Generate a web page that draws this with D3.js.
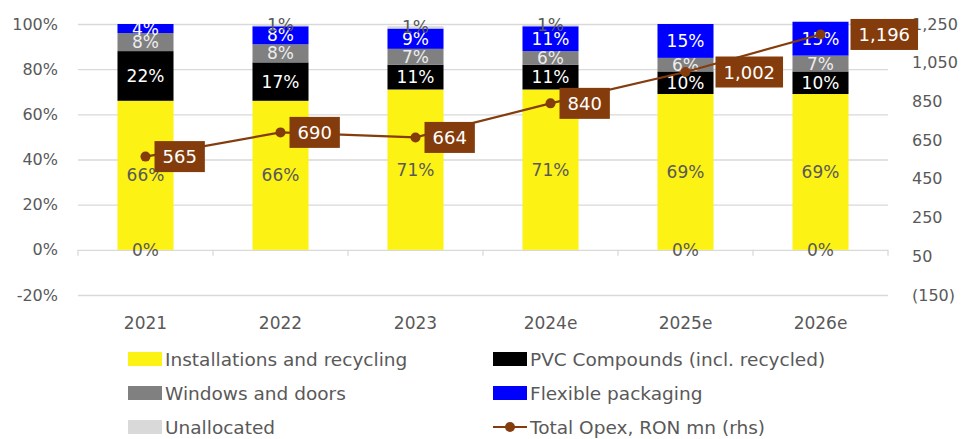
<!DOCTYPE html>
<html>
<head>
<meta charset="utf-8">
<script src="https://cdn.jsdelivr.net/npm/d3@7"></script>
<style>
  html, body { margin: 0; padding: 0; background: #fff; }
  svg { display: block; font-family: "DejaVu Sans", sans-serif; }
</style>
</head>
<body>
<svg id="chart" width="965" height="439"></svg>
<script>
// Opex split by business line (share of total, %) and total opex (RON mn)
const years         = ["2021", "2022", "2023", "2024e", "2025e", "2026e"];
const installations = [66, 66, 71, 71, 69, 69];
const pvcCompounds  = [22, 17, 11, 11, 10, 10];
const windowsDoors  = [8, 8, 7, 6, 6, 7];
const flexiblePack  = [4, 8, 9, 11, 15, 15];
const unallocated   = [0, 1, 1, 1, 0, 0];
const totalOpex     = [565, 690, 664, 840, 1002, 1196];

const leftTicks  = [-20, 0, 20, 40, 60, 80, 100];
const rightTicks = [-150, 50, 250, 450, 650, 850, 1050, 1250];

const seriesNames = [
  "Installations and recycling",
  "PVC Compounds (incl. recycled)",
  "Windows and doors",
  "Flexible packaging",
  "Unallocated"
];
const seriesValues = [installations, pvcCompounds, windowsDoors, flexiblePack, unallocated];
const lineName = "Total Opex, RON mn (rhs)";

const colors = {
  "Installations and recycling": "#FCF213",
  "PVC Compounds (incl. recycled)": "#000000",
  "Windows and doors": "#808080",
  "Flexible packaging": "#0000FF",
  "Unallocated": "#D9D9D9"
};
const labelColors = {
  "Installations and recycling": "#595959",
  "PVC Compounds (incl. recycled)": "#FFFFFF",
  "Windows and doors": "#EDEDED",
  "Flexible packaging": "#FFFFFF",
  "Unallocated": "#595959"
};
const lineColor = "#843C0C";
const textColor = "#595959";
const gridColor = "#D9D9D9";

// table for stacking
const rows = years.map((y, i) => {
  const r = { year: y };
  seriesNames.forEach((n, k) => { r[n] = seriesValues[k][i]; });
  return r;
});

const svg = d3.select("#chart");
const plot = { left: 78, right: 888, top: 24, bottom: 295 };

const x = d3.scaleBand()
  .domain(years)
  .range([plot.left, plot.right])
  .paddingInner(0.585)
  .paddingOuter(0.2925);

const yL = d3.scaleLinear().domain([-20, 100]).range([plot.bottom, plot.top]);
const yR = d3.scaleLinear().domain([-150, 1250]).range([plot.bottom, plot.top]);

// horizontal gridlines + left axis labels
const gAxisL = svg.append("g")
  .attr("transform", `translate(${plot.left},0)`)
  .call(d3.axisLeft(yL)
    .tickValues(leftTicks)
    .tickSize(-(plot.right - plot.left))
    .tickPadding(20)
    .tickFormat(d => d + "%"));
gAxisL.select(".domain").remove();
gAxisL.selectAll(".tick line").attr("stroke", gridColor).attr("stroke-width", 1.3);
gAxisL.selectAll(".tick text")
  .attr("fill", textColor).style("font-size", "16px").attr("font-family", "DejaVu Sans");

// category axis on the zero line with boundary ticks
const gAxisX = svg.append("g").attr("transform", `translate(0,${yL(0)})`);
const boundaries = d3.range(years.length + 1).map(i => plot.left + i * x.step());
gAxisX.selectAll("line.bound")
  .data(boundaries)
  .join("line")
  .attr("class", "bound")
  .attr("x1", d => d).attr("x2", d => d)
  .attr("y1", 0).attr("y2", 6)
  .attr("stroke", gridColor).attr("stroke-width", 1.3);

// year labels below the plot
svg.append("g").selectAll("text")
  .data(years)
  .join("text")
  .attr("x", d => x(d) + x.bandwidth() / 2)
  .attr("y", 323)
  .attr("text-anchor", "middle")
  .attr("dominant-baseline", "central")
  .attr("fill", textColor)
  .style("font-size", "17px")
  .text(d => d);

// right axis (rhs, RON mn)
const gAxisR = svg.append("g")
  .attr("transform", `translate(${plot.right},0)`)
  .call(d3.axisRight(yR)
    .tickValues(rightTicks)
    .tickSize(0)
    .tickPadding(24)
    .tickFormat(d => d < 0 ? `(${d3.format(",")(-d)})` : d3.format(",")(d)));
gAxisR.select(".domain").remove();
gAxisR.selectAll(".tick text")
  .attr("fill", textColor).style("font-size", "16px").attr("font-family", "DejaVu Sans");

// stacked bars
const stacked = d3.stack().keys(seriesNames)(rows);

const layers = svg.append("g").selectAll("g.layer")
  .data(stacked)
  .join("g")
  .attr("class", "layer")
  .attr("fill", d => colors[d.key]);

layers.selectAll("rect")
  .data(d => d)
  .join("rect")
  .attr("x", d => x(d.data.year))
  .attr("width", x.bandwidth())
  .attr("y", d => yL(d[1]))
  .attr("height", d => yL(d[0]) - yL(d[1]));

// segment labels (zero shares are labelled on the baseline)
const segLabels = svg.append("g");
stacked.forEach(layer => {
  segLabels.selectAll(null)
    .data(layer)
    .join("text")
    .attr("x", d => x(d.data.year) + x.bandwidth() / 2)
    .attr("y", d => {
      const v = d.data[layer.key];
      return v === 0 ? yL(0) : yL((d[0] + d[1]) / 2);
    })
    .attr("text-anchor", "middle")
    .attr("dominant-baseline", "central")
    .attr("fill", d => labelColors[layer.key])
    .style("font-size", "17px")
    .text(d => d.data[layer.key] + "%");
});

// total opex line (rhs)
const pts = years.map((y, i) => ({ year: y, value: totalOpex[i] }));
const cx = d => x(d.year) + x.bandwidth() / 2;

svg.append("path")
  .datum(pts)
  .attr("fill", "none")
  .attr("stroke", lineColor)
  .attr("stroke-width", 2.2)
  .attr("d", d3.line().x(cx).y(d => yR(d.value)));

svg.append("g").selectAll("circle")
  .data(pts)
  .join("circle")
  .attr("cx", cx)
  .attr("cy", d => yR(d.value))
  .attr("r", 5)
  .attr("fill", lineColor);

// boxed value labels to the right of each point
const fmt = d3.format(",");
const boxGap = d => d.value >= 1000 ? 30 : 9;
const boxes = svg.append("g").selectAll("g")
  .data(pts)
  .join("g")
  .attr("transform", d => `translate(${cx(d) + boxGap(d)},${yR(d.value)})`);

boxes.each(function (d) {
  const g = d3.select(this);
  const t = g.append("text")
    .attr("dominant-baseline", "central")
    .attr("fill", "#FFFFFF")
    .style("font-size", "18px")
    .text(fmt(d.value));
  const w = t.node().getComputedTextLength();
  const padX = 8, h = 31;
  g.insert("rect", "text")
    .attr("x", 0).attr("y", -h / 2)
    .attr("width", w + 2 * padX).attr("height", h)
    .attr("fill", lineColor);
  t.attr("x", padX);
});

// legend
const legendItems = [
  { name: seriesNames[0], col: 0, row: 0 },
  { name: seriesNames[1], col: 1, row: 0 },
  { name: seriesNames[2], col: 0, row: 1 },
  { name: seriesNames[3], col: 1, row: 1 },
  { name: seriesNames[4], col: 0, row: 2 },
  { name: lineName, col: 1, row: 2, line: true }
];
const legCols = [128, 493];
const legRows = [359, 393, 427];

const leg = svg.append("g").selectAll("g")
  .data(legendItems)
  .join("g")
  .attr("transform", d => `translate(${legCols[d.col]},${legRows[d.row]})`);

leg.each(function (d) {
  const g = d3.select(this);
  if (d.line) {
    g.append("line")
      .attr("x1", 0).attr("x2", 34).attr("y1", 0).attr("y2", 0)
      .attr("stroke", lineColor).attr("stroke-width", 2.2);
    g.append("circle").attr("cx", 17).attr("cy", 0).attr("r", 5).attr("fill", lineColor);
  } else {
    g.append("rect")
      .attr("x", 0).attr("y", -7).attr("width", 34).attr("height", 14)
      .attr("fill", colors[d.name]);
  }
  g.append("text")
    .attr("x", 37)
    .attr("y", 0)
    .attr("dominant-baseline", "central")
    .attr("fill", textColor)
    .style("font-size", "18.5px")
    .text(d.name);
});
</script>
</body>
</html>
